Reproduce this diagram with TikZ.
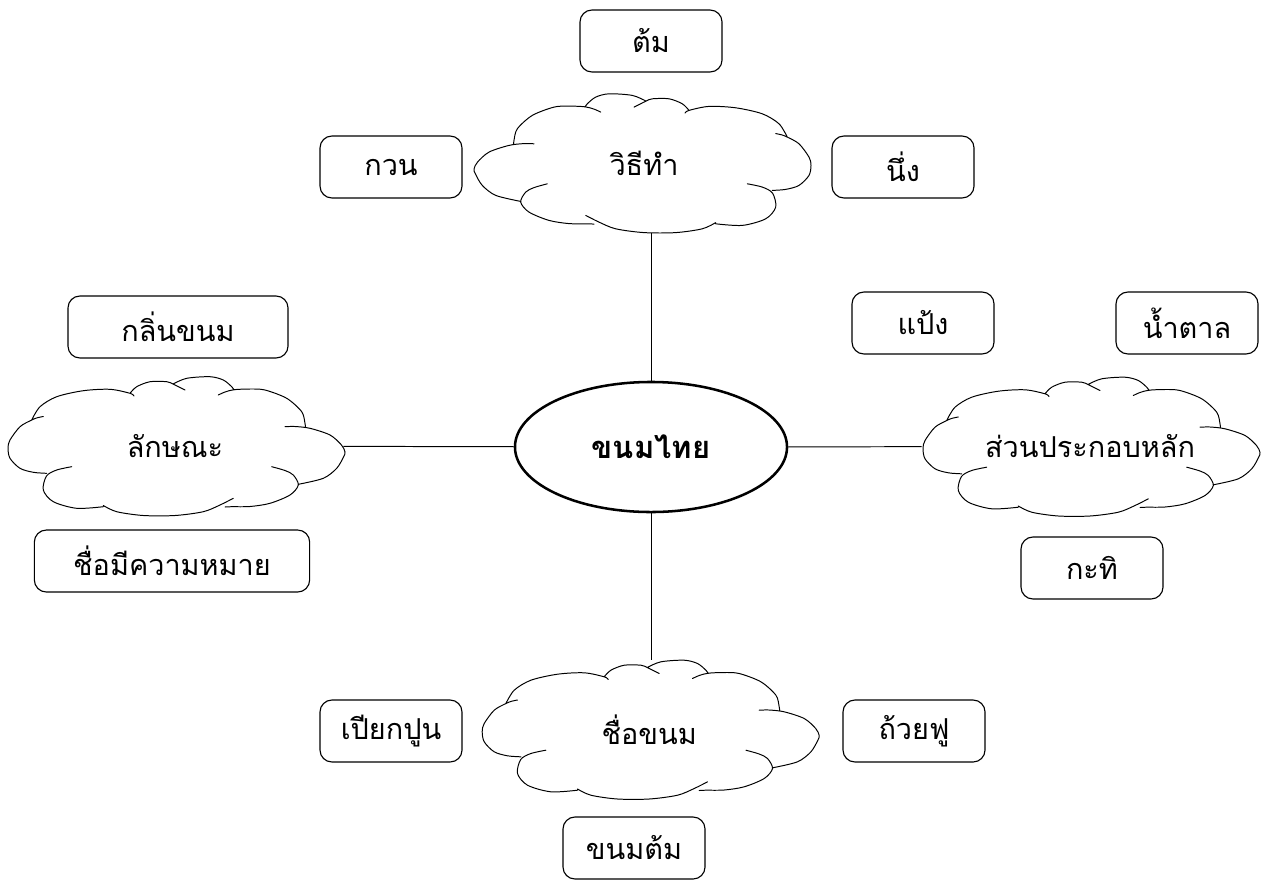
\documentclass[tikz,border=0pt]{standalone}
\usepackage{fontspec}
\newfontfamily\thaifont[Script=Thai]{Loma}
\usepackage{tikz}
\usetikzlibrary{shapes,positioning}
\tikzset{
	item/.style = {
		draw, rectangle, rounded corners=0.3cm, line width=0.8pt, minimum width=3.55cm, minimum height=1.55cm, font=\thaifont\fontsize{20.5}{24}\selectfont
	}
}
\tikzset{
	topic/.style = {
		ellipse, inner sep=0pt, minimum width=8.4cm, minimum height=3.475cm, font=\thaifont\fontsize{20.5}{24}\selectfont
	}
}
\tikzset{
	mainidea/.style = {
		draw, ellipse, line width=1.8pt, minimum width=6.8cm, minimum height=3.25cm, font=\thaifont\bfseries\fontsize{22}{26}\selectfont
	}
}
\tikzset{
	link/.style = {
		line width=0.7pt
	}
}
\tikzset{
	cloudline/.style = {
		line width=0.7pt, line cap=round
	}
}
% cloud outline round a topic node, one smooth plot per puff
\newcommand\drawcloud[2][1]{%
	\begin{scope}[shift={(#2.center)}, xscale=#1]
		\draw[cloudline]
			plot[smooth] coordinates {(-143.3,-26) (-135,-39.3) (-118.3,-49.3) (-91.7,-55.3) (-65,-56.7) (-45,-52.7) (-41,-50)}
			plot[smooth] coordinates {(-45,-52.7) (-38.3,-59.3) (-25,-64.3) (-8.3,-64.3) (-2,-62) (4,-59) (10,-56)}
			plot[smooth] coordinates {(-2,-62) (11.7,-67.7) (35,-69.3) (48.3,-66) (56.7,-59.3) (59,-56)}
			plot[smooth] coordinates {(43.3,-51) (50,-54) (59,-56.3) (75,-57) (90,-56) (111.7,-47.7) (126.7,-34.3) (130,-22.7) (130.5,-18.5)}
			plot[smooth] coordinates {(110,-19.3) (120,-19.5) (135,-17.7) (155,-11) (166.5,-1) (170,6) (168.5,11) (161.7,22.3) (148.3,32.3) (123.3,38.3)}
			plot[smooth] coordinates {(96.7,20.7) (110,24.5) (118.3,29) (123.3,39) (115,49) (95,57.3) (75,60.5) (56.7,60.7) (50,61)}
			plot[smooth] coordinates {(-71.7,59.5) (-58.3,65.7) (-31.7,69.5) (0,69.5) (28.3,65.7) (45,59) (58.3,52.3)}
			plot[smooth] coordinates {(-103.3,20.7) (-118.3,24) (-128.5,30) (-131.7,44) (-121.7,55.7) (-98.3,62.3) (-71.7,60.7)}
			plot[smooth] coordinates {(-128.3,27.3) (-141.7,26.3) (-155,22.3) (-165,12.3) (-167,2) (-165,-6) (-155,-19.3) (-143.3,-26) (-137.5,-28.3) (-131.7,-29.5)};
	\end{scope}}

\begin{document}
\begin{tikzpicture}[x=0.025cm, y=-0.025cm]
	\useasboundingbox (0,0) rectangle (1266,881);

	\node[mainidea](KhanomThai) at (651,447){ขนมไทย};

	\node[topic](Method) at (644,163.1){วิธีทำ};
	\node[item](Boil) at (651,41){ต้ม};
	\node[item](Stir) at (391,167){กวน};
	\node[item](Steam) at (903,167){นึ่ง};

	\node[topic](Feature) at (175,446){\raisebox{-4pt}{ลักษณะ}};
	\node[item, minimum width=5.5cm](Smell) at (178,327){กลิ่นขนม};
	\node[item, minimum width=6.88cm](Meaning) at (172,561){ชื่อมีความหมาย};

	\node[topic](Ingredient) at (1090,446.5){ส่วนประกอบหลัก};
	\node[item](Flour) at (923,323){แป้ง};
	\node[item](Sugar) at (1187,323){น้ำตาล};
	\node[item](Coconut) at (1092,568){กะทิ};

	\node[topic](Name) at (649.2,729.5){ชื่อขนม};
	\node[item](PiakPoon) at (391,731){เปียกปูน};
	\node[item](TuayFu) at (914,731){ถ้วยฟู};
	\node[item](KhanomTom) at (634,848){ขนมต้ม};

	\drawcloud[-1]{Method}
	\drawcloud{Feature}
	\drawcloud{Ingredient}
	\drawcloud{Name}

	\draw[link] (KhanomThai) -- (KhanomThai |- Method.south);
	\draw[link] (Feature) -- (KhanomThai);
	\draw[link] (KhanomThai) -- (Ingredient);
	\draw[link] (KhanomThai) -- (KhanomThai |- Name.north);
\end{tikzpicture}
\end{document}
